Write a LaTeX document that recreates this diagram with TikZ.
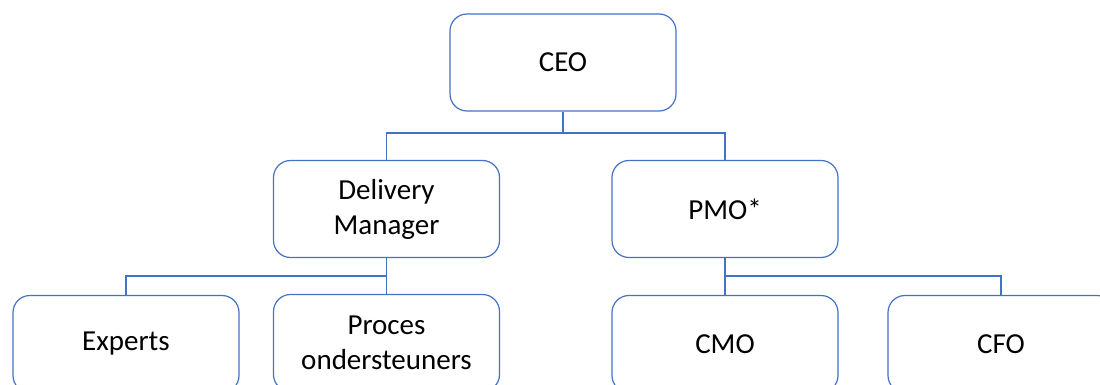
\documentclass[tikz,border=0pt]{standalone}
\usepackage{fontspec}
\setmainfont{Carlito}
\definecolor{boxblue}{HTML}{4472C4}
\begin{document}
\begin{tikzpicture}[x=1pt,y=-1pt,
  orgbox/.style={draw=boxblue, line width=1.2pt, rounded corners=17pt, fill=white,
    minimum width=226pt, minimum height=97pt, align=center, inner sep=0pt,
    font=\fontsize{29}{35}\selectfont},
  link/.style={draw=boxblue, line width=1.2pt}]
\useasboundingbox[fill=white] (0,0) rectangle (1100,385);
\node[orgbox] (ceo) at (563,62.5) {CEO};
\node[orgbox] (dm) at (386.5,209) {Delivery\\Manager};
\node[orgbox] (pmo) at (725,209) {PMO*};
\node[orgbox] (exp) at (126,344) {Experts};
\node[orgbox] (proc) at (386.5,343) {Proces\\ondersteuners};
\node[orgbox] (cmo) at (725,344) {CMO};
\node[orgbox] (cfo) at (1001,344) {CFO};
\coordinate (j1) at (563,133);
\coordinate (j2) at (386.5,276);
\coordinate (j3) at (725,276);
\draw[link] (ceo.south) -- (j1) -| (dm.north);
\draw[link] (j1) -| (pmo.north);
\draw[link] (dm.south) -- (j2) -| (exp.north);
\draw[link] (j2) -- (proc.north);
\draw[link] (pmo.south) -- (j3) -| (cfo.north);
\draw[link] (j3) -- (cmo.north);
\end{tikzpicture}
\end{document}
